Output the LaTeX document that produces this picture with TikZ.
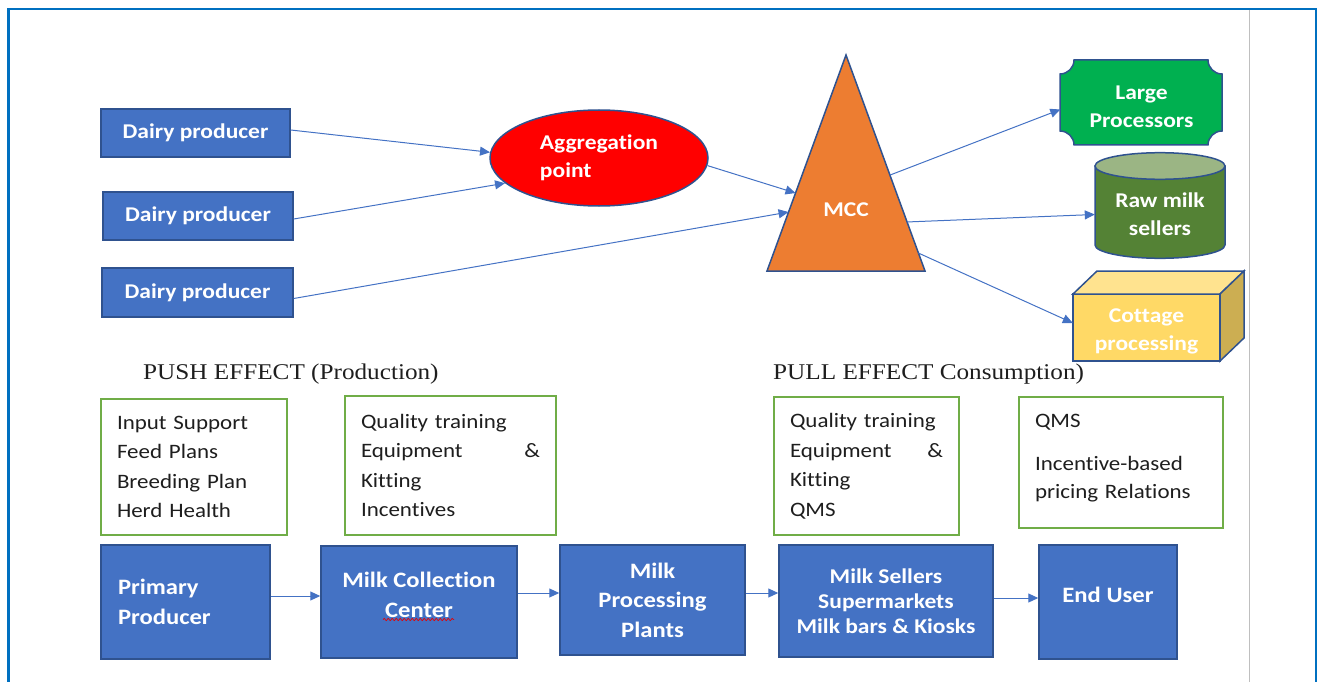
\documentclass[tikz,border=0pt]{standalone}
\usepackage{fontspec}
\setmainfont{Carlito}[FakeStretch=1.12, Ligatures=NoCommon]
\newfontfamily\headingface{Liberation Serif}[FakeStretch=1.12]
\usetikzlibrary{arrows.meta,shapes.geometric,calc,decorations.pathmorphing}

\definecolor{boxblue}{HTML}{4472C4}
\definecolor{edgeblue}{HTML}{2F528F}
\definecolor{frameblue}{HTML}{0070C0}
\definecolor{leafgreen}{HTML}{70AD47}
\definecolor{mccorange}{HTML}{ED7D31}
\definecolor{plaquegreen}{HTML}{00B050}
\definecolor{tankgreen}{HTML}{548235}
\definecolor{tanktop}{HTML}{9BB584}
\definecolor{cubefront}{HTML}{FFD966}
\definecolor{cubetop}{HTML}{FFE38F}
\definecolor{cubeside}{HTML}{CCAE52}
\definecolor{inkgray}{HTML}{1E1E1E}

\tikzset{
  prodbox/.style={draw=edgeblue, line width=1.5pt, fill=boxblue, text=white,
    font=\fontsize{21}{26}\selectfont\bfseries, inner sep=0pt},
  chainbox/.style={draw=edgeblue, line width=1.5pt, fill=boxblue, text=white,
    font=\fontsize{22}{29.5}\selectfont\bfseries, align=center, inner sep=0pt},
  notebox/.style={draw=leafgreen, line width=1.5pt, fill=white, text=inkgray,
    font=\fontsize{20.5}{29.5}\selectfont, align=left, inner xsep=16pt, inner ysep=0pt},
  shapetext/.style={text=white, font=\fontsize{21}{28}\selectfont\bfseries,
    align=center, inner sep=0pt},
  outline/.style={draw=edgeblue, line width=1.5pt},
  flow/.style={draw=boxblue, line width=1pt, -{Triangle[length=10pt,width=9pt]}},
  heading/.style={font=\headingface\fontsize{22.5}{27}\selectfont, text=inkgray,
    anchor=west, inner sep=0pt},
}

\begin{document}
\begin{tikzpicture}[x=1pt,y=-1pt]
\useasboundingbox (0,0) rectangle (1322,682);

% page frame and column rule
\draw[frameblue, line width=2.5pt] (8.5,682) -- (8.5,9) -- (1316,9) -- (1316,682);
\draw[black!25, line width=1pt] (1249.5,10.5) -- (1249.5,682);

% ---------- supply network ----------
\node[prodbox, minimum width=189pt, minimum height=48pt] (dp1) at (195.5,133) {Dairy producer};
\node[prodbox, minimum width=190pt, minimum height=48pt] (dp2) at (198,216) {Dairy producer};
\node[prodbox, minimum width=191pt, minimum height=49pt] (dp3) at (197.5,292.5) {Dairy producer};

\node[ellipse, outline, fill=red, minimum width=218pt, minimum height=96pt,
      shapetext, align=left] (agg) at (599,158) {Aggregation\\point};

% milk collection centre (triangle)
\coordinate (mccA) at (846,55);
\coordinate (mccL) at (767,271);
\coordinate (mccR) at (925,271);
\filldraw[outline, fill=mccorange] (mccA) -- (mccL) -- (mccR) -- cycle;
\node[shapetext] (mcc) at (846,210) {MCC};

% large processors (plaque)
\filldraw[outline, fill=plaquegreen]
  (1074,60) -- (1208,60) .. controls (1208,67.7) and (1214.3,74) .. (1222,74)
  -- (1222,131) .. controls (1214.3,131) and (1208,137.3) .. (1208,145)
  -- (1074,145) .. controls (1074,137.3) and (1067.7,131) .. (1060,131)
  -- (1060,74) .. controls (1067.7,74) and (1074,67.7) .. (1074,60) -- cycle;
\node[shapetext, minimum width=162pt, minimum height=85pt] (lp) at (1141.5,106.5) {Large\\Processors};

% raw milk sellers (cylinder)
\filldraw[outline, fill=tankgreen]
  (1095,166) -- (1095,245)
  .. controls (1095,252.3) and (1124.1,258.3) .. (1160,258.3)
  .. controls (1195.9,258.3) and (1225,252.3) .. (1225,245)
  -- (1225,166) -- cycle;
\filldraw[outline, fill=tanktop] (1160,166) ellipse [x radius=65, y radius=13.3];
\node[shapetext, minimum width=130pt, minimum height=70pt] (raw) at (1160,214.5) {Raw milk\\sellers};

% cottage processing (cube)
\filldraw[outline, fill=cubefront] (1073,294) rectangle (1220,361);
\filldraw[outline, fill=cubetop] (1073,294) -- (1097,271) -- (1244,271) -- (1220,294) -- cycle;
\filldraw[outline, fill=cubeside] (1220,294) -- (1244,271) -- (1244,338) -- (1220,361) -- cycle;
\node[shapetext, minimum width=147pt, minimum height=67pt] (cot) at (1146.5,331) {Cottage\\processing};

% supply connectors
\draw[flow] ([yshift=3pt]dp1.east) -- (agg.177);
\draw[flow] ([yshift=-3pt]dp2.east) -- (agg.195);
\draw[flow] ([yshift=-6pt]dp3.east) -- ($(mccA)!0.727!(mccL)$);
\draw[flow] (agg.-4) -- ($(mccA)!0.639!(mccL)$);
\draw[flow] ($(mccA)!0.556!(mccR)$) -- ([yshift=-3pt]lp.west);
\draw[flow] ($(mccA)!0.773!(mccR)$) -- (raw.west);
\draw[flow] ($(mccA)!0.917!(mccR)$) -- ([yshift=8pt]cot.west);

% ---------- value chain ----------
\node[heading] (push) at (143,374) {PUSH EFFECT (Production)};
\node[heading] (pull) at (773,374) {PULL EFFECT Consumption)};

\node[notebox, minimum width=186pt, minimum height=136pt, text width=154pt] (nA) at (194,467)
  {Input Support\\Feed Plans\\Breeding Plan\\Herd Health};
\node[notebox, minimum width=211pt, minimum height=139pt, text width=179pt] (nB) at (450.5,465.5)
  {Quality training\\Equipment\hfill\&\\Kitting\\Incentives};
\node[notebox, minimum width=185pt, minimum height=138pt, text width=153pt] (nC) at (866.5,466)
  {Quality training\\Equipment\hfill\&\\Kitting\\QMS};
\node[notebox, minimum width=204pt, minimum height=131pt, text width=172pt] (nD) at (1121,462.5)
  {\smash{\begin{tabular}{@{}l@{}}QMS\\[13pt]Incentive-based\\[-1pt]pricing Relations\end{tabular}}};

\node[chainbox, align=left, text width=135pt, inner xsep=17pt, minimum width=169pt,
      minimum height=114pt] (pp) at (185.5,602) {Primary\\Producer};
\node[chainbox, minimum width=196pt, minimum height=112pt] (cc) at (419,602)
  {\smash{\begin{tabular}{@{}c@{}}Milk Collection\\Center\end{tabular}}};
\node[chainbox, minimum width=185pt, minimum height=110pt] (mp) at (652.5,600)
  {Milk\\Processing\\Plants};
\node[chainbox, font=\fontsize{21}{25}\selectfont\bfseries, minimum width=214pt,
      minimum height=112pt] (ms) at (886,601)
  {Milk Sellers\\Supermarkets\\Milk bars \& Kiosks};
\node[chainbox, minimum width=138pt, minimum height=114pt] (eu) at (1108,602)
  {\raisebox{14pt}{End User}};

% spelling squiggle under "Center"
\draw[red!90!black, line width=0.7pt, decorate,
      decoration={snake, amplitude=1.1pt, segment length=4pt}] (383,619.5) -- (454,619.5);

\draw[flow] ([yshift=6pt]pp.east) -- ([yshift=6pt]pp.east -| cc.west);
\draw[flow] ([yshift=9pt]cc.east) -- ([yshift=9pt]cc.east -| mp.west);
\draw[flow] ([yshift=7pt]mp.east) -- ([yshift=7pt]mp.east -| ms.west);
\draw[flow] ([yshift=3pt]ms.east) -- ([yshift=3pt]ms.east -| eu.west);

\end{tikzpicture}
\end{document}
